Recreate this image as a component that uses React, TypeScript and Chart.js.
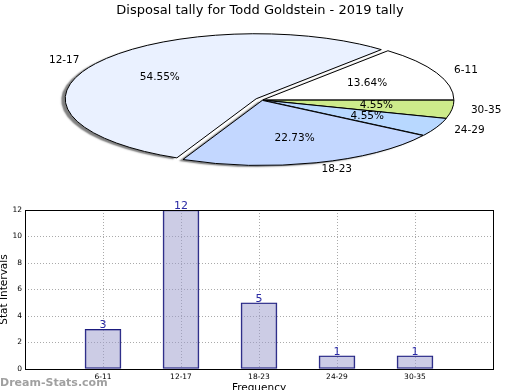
import { useEffect, useRef } from "react";
import { Chart, registerables } from "chart.js";

Chart.register(...registerables);

const chartTitle = "Disposal tally for Todd Goldstein - 2019 tally";
const categories = ["6-11", "12-17", "18-23", "24-29", "30-35"];
const counts = [3, 12, 5, 1, 1];
const sliceColors = ["#ffffff", "#eaf1ff", "#c3d7ff", "#b8d8ff", "#cdeb8b"];
const explode = [0.005, 0.036, 0.006, 0.006, 0.005];
const yTickValues = [0, 2, 4, 6, 8, 10, 12];
const xAxisTitle = "Frequency";
const yAxisTitle = "Stat Intervals";
const watermarkText = "Dream-Stats.com";

const FONT = "'DejaVu Sans', sans-serif";
const PIE = { cx: 262, cy: 100, rx: 191, ry: 65 };

const ellipsePie = {
  id: "ellipsePie",
  beforeDatasetsDraw(chart: any) {
    const ctx = chart.ctx as CanvasRenderingContext2D;
    const meta = chart.getDatasetMeta(0);
    const arcs = meta.data as any[];
    if (!arcs.length) return false;
    const ds = chart.data.datasets[0];
    const ex: number[] = ds.explode || [];
    const ox = arcs[0].x;
    const oy = arcs[0].y;
    const k = PIE.ry / PIE.rx;
    const base = ctx.getTransform();
    const origStroke = ctx.stroke;
    let strokeOn = true;

    const shift = (arc: any, j: number) => {
      const mid = (arc.startAngle + arc.endAngle) / 2;
      const e = (ex[j] || 0) * arc.outerRadius;
      return { mid, e };
    };

    ctx.save();
    ctx.translate(PIE.cx, PIE.cy);
    ctx.scale(1, k);
    ctx.translate(-ox, -oy);
    (ctx as any).stroke = function (...args: any[]) {
      if (!strokeOn) return;
      this.save();
      this.setTransform(base);
      this.shadowColor = "rgba(0,0,0,0)";
      origStroke.apply(this, args as any);
      this.restore();
    };

    for (const pass of [true, false]) {
      strokeOn = !pass;
      arcs.forEach((arc, j) => {
        const { mid, e } = shift(arc, j);
        ctx.save();
        if (pass) {
          ctx.shadowColor = "rgba(0,0,0,0.5)";
          ctx.shadowOffsetX = -4;
          ctx.shadowOffsetY = 1.5;
          ctx.shadowBlur = 1.5;
        }
        ctx.translate(Math.cos(mid) * e, Math.sin(mid) * e);
        arc.draw(ctx);
        ctx.restore();
      });
    }
    delete (ctx as any).stroke;
    ctx.restore();

    // labels
    const values: number[] = ds.data;
    const total = values.reduce((a: number, b: number) => a + b, 0);
    ctx.save();
    ctx.font = `10.5px ${FONT}`;
    ctx.fillStyle = "#000";
    ctx.textBaseline = "middle";
    arcs.forEach((arc, j) => {
      const { mid, e } = shift(arc, j);
      const r = arc.outerRadius;
      const place = (f: number) => [
        PIE.cx + Math.cos(mid) * (f * r + e),
        PIE.cy + k * Math.sin(mid) * (f * r + e),
      ];
      const [px, py] = place(0.6);
      ctx.textAlign = "center";
      ctx.fillText(((values[j] / total) * 100).toFixed(2) + "%", px, py);
      const [lx, ly] = place(1.1);
      ctx.textAlign = Math.cos(mid) >= 0 ? "left" : "right";
      ctx.fillText(String(chart.data.labels[j]), lx, ly);
    });
    ctx.restore();
    return false;
  },
};

const barExtras = {
  id: "barExtras",
  afterDatasetsDraw(chart: any) {
    const ctx = chart.ctx as CanvasRenderingContext2D;
    const a = chart.chartArea;
    const meta = chart.getDatasetMeta(0);
    const data = chart.data.datasets[0].data;
    ctx.save();
    ctx.font = `11px ${FONT}`;
    ctx.fillStyle = "#2a2aa5";
    ctx.textAlign = "center";
    ctx.textBaseline = "alphabetic";
    meta.data.forEach((bar: any, i: number) => {
      const v = data[i];
      if (v == null) return;
      ctx.fillText(String(v), bar.x, bar.y - 1);
    });
    ctx.strokeStyle = "#000";
    ctx.lineWidth = 1;
    ctx.strokeRect(
      Math.round(a.left) + 0.5,
      Math.round(a.top) + 0.5,
      Math.round(a.right - a.left),
      Math.round(a.bottom - a.top)
    );
    ctx.restore();
  },
  afterDraw(chart: any) {
    const ctx = chart.ctx as CanvasRenderingContext2D;
    ctx.save();
    ctx.font = `bold 11px 'DejaVu Sans', sans-serif`;
    ctx.fillStyle = "rgba(150,150,150,0.9)";
    ctx.textAlign = "left";
    ctx.textBaseline = "alphabetic";
    ctx.fillText(watermarkText, 0, 386);
    ctx.restore();
  },
};

export default function App() {
  const pieRef = useRef<HTMLCanvasElement>(null);
  const barRef = useRef<HTMLCanvasElement>(null);

  useEffect(() => {
    const pie = new Chart(pieRef.current as HTMLCanvasElement, {
      type: "pie",
      data: {
        labels: [...categories].reverse(),
        datasets: [
          {
            data: [...counts].reverse(),
            backgroundColor: [...sliceColors].reverse(),
            borderColor: "#000",
            borderWidth: 1,
            radius: PIE.rx,
            explode: [...explode].reverse(),
          } as any,
        ],
      },
      options: {
        responsive: false,
        animation: false,
        rotation: 90,
        events: [],
        plugins: {
          legend: { display: false },
          tooltip: { enabled: false },
          title: {
            display: true,
            text: chartTitle,
            color: "#000",
            font: { family: FONT, size: 13, weight: "normal" },
            padding: { top: 3, bottom: 0 },
          },
        },
      } as any,
      plugins: [ellipsePie as any],
    });

    const bar = new Chart(barRef.current as HTMLCanvasElement, {
      type: "bar",
      data: {
        labels: ["", ...categories, ""],
        datasets: [
          {
            data: [null, ...counts, null],
            backgroundColor: "rgba(153,153,204,0.5)",
            borderColor: "#1b1b7e",
            borderWidth: 1,
            borderSkipped: false,
            barThickness: 36,
          } as any,
        ],
      },
      options: {
        responsive: false,
        animation: false,
        events: [],
        layout: { padding: { top: 210, right: 27, left: 0, bottom: 0 } },
        plugins: {
          legend: { display: false },
          tooltip: { enabled: false },
          title: { display: false },
        },
        scales: {
          x: {
            offset: false,
            grid: { offset: false, color: "#aaaaaa", lineWidth: 1, drawTicks: false },
            border: { display: false, dash: [1, 2] },
            ticks: {
              autoSkip: false,
              maxRotation: 0,
              padding: 4,
              color: "#000",
              font: { family: FONT, size: 7.5 },
            },
            title: {
              display: true,
              text: xAxisTitle,
              color: "#000",
              font: { family: FONT, size: 10.5 },
              padding: { top: 0, bottom: -5 },
            },
            afterFit: (s: any) => {
              s.height = 21;
            },
          },
          y: {
            min: 0,
            max: 12,
            afterBuildTicks: (s: any) => {
              s.ticks = yTickValues.map((v) => ({ value: v }));
            },
            grid: { color: "#aaaaaa", lineWidth: 1, drawTicks: false },
            border: { display: false, dash: [1, 2] },
            ticks: { padding: 3, color: "#000", font: { family: FONT, size: 7.5 } },
            title: {
              display: true,
              text: yAxisTitle,
              color: "#000",
              font: { family: FONT, size: 10.5 },
              padding: { top: -2, bottom: 0 },
            },
            afterFit: (s: any) => {
              s.width = 25;
            },
          },
        },
      } as any,
      plugins: [barExtras as any],
    });

    return () => {
      pie.destroy();
      bar.destroy();
    };
  }, []);

  const canvasStyle = {
    position: "absolute" as const,
    left: 0,
    top: 0,
    width: 520,
    height: 390,
  };

  return (
    <div
      style={{
        position: "fixed",
        left: 0,
        top: 0,
        width: 520,
        height: 390,
        background: "#fff",
      }}
    >
      <canvas ref={barRef} width={520} height={390} style={canvasStyle} />
      <canvas ref={pieRef} width={520} height={390} style={canvasStyle} />
    </div>
  );
}
